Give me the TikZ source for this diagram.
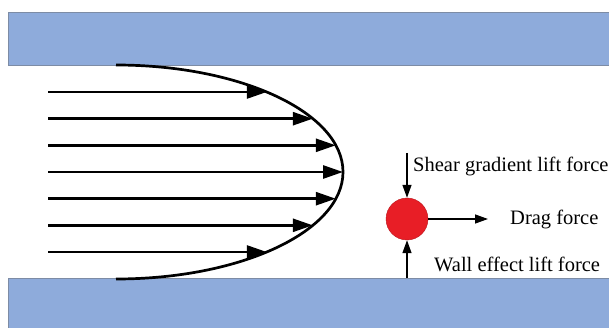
\documentclass[tikz,border=0pt]{standalone}
\usepackage{fontspec}
\setmainfont{Liberation Serif}
\usetikzlibrary{arrows.meta}
\definecolor{wallblue}{RGB}{142,171,219}
\definecolor{walledge}{RGB}{125,140,165}
\definecolor{partred}{RGB}{232,30,38}
\tikzset{
  wall/.style={fill=wallblue, draw=walledge, line width=0.8pt},
  flow/.style={line width=2.7pt, -{Triangle[length=20pt,width=13pt]}},
  force/.style={line width=1.4pt, -{Triangle[length=13pt,width=9pt]}},
  lbl/.style={anchor=west, inner sep=0pt, font=\fontsize{20.5}{24}\selectfont}
}
\begin{document}
\begin{tikzpicture}[x=1pt,y=-1pt]
\useasboundingbox (0,0) rectangle (609,328);
\fill[white] (0,0) rectangle (609,328);
% walls
\draw[wall] (8,12) rectangle (615,65);
\draw[wall] (8,278) rectangle (615,335);
% velocity profile (half ellipse)
\draw[line width=2.7pt] (116,65) arc[start angle=-90, end angle=90, x radius=227, y radius=107];
% flow arrows
\foreach \y/\xe [count=\i] in {92/266.8, 118.7/312.8, 145.3/335.8, 172/343, 198.7/335.8, 225.3/312.8, 252/266.8}{
  \coordinate (s\i) at (48,\y);
  \coordinate (e\i) at (\xe,\y);
  \draw[flow] (s\i) -- (e\i);
}
% particle
\node[circle, fill=partred, draw=partred!80!black, line width=0.4pt, minimum size=42pt, inner sep=0pt] (p) at (407,219) {};
\coordinate (shtop) at (407,153);
\coordinate (wallpt) at (407,278);
\coordinate (dragend) at (488,219);
\draw[force] (shtop) -- (p.north);
\draw[force] (wallpt) -- (p.south);
\draw[force] (p.east) -- (dragend);
% labels
\node[lbl] (shear) at (413,166) {Shear gradient lift force};
\node[lbl] (drag) at (510,219) {Drag force};
\node[lbl] (wallf) at (434,264) {Wall effect lift force};
\end{tikzpicture}
\end{document}
